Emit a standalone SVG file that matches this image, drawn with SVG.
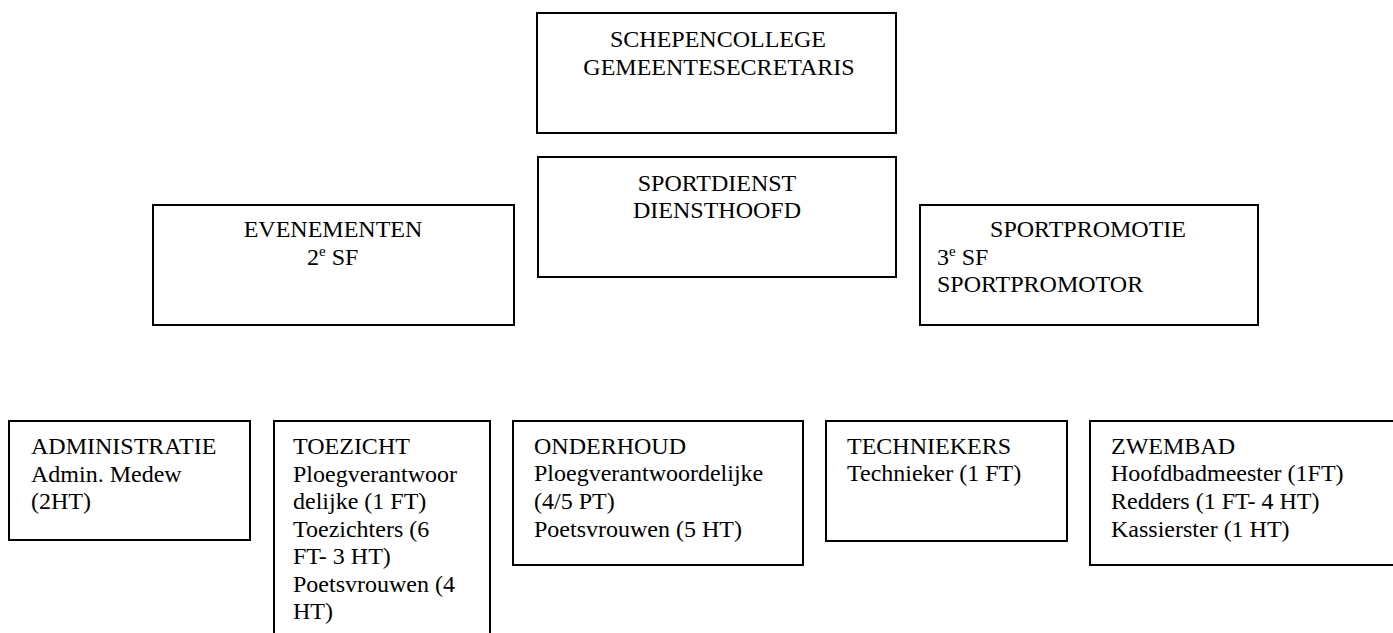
<svg xmlns="http://www.w3.org/2000/svg" width="1393" height="633" viewBox="0 0 1393 633">
<style>
.box{fill:#fff;stroke:#000;stroke-width:2}
text{font-family:"Liberation Serif","Times New Roman",serif;font-size:24px;fill:#000}
.c{text-anchor:middle}
.sup{font-size:15px}
</style>
<rect width="1393" height="633" fill="#fff"/>
<g id="connectors"></g>
<g id="schepencollege">
<rect class="box" x="537" y="13" width="359" height="120"/>
<text class="c" x="718" y="47">SCHEPENCOLLEGE</text>
<text class="c" x="719" y="75">GEMEENTESECRETARIS</text>
</g>
<g id="sportdienst">
<rect class="box" x="538" y="157" width="358" height="120"/>
<text class="c" x="717" y="191">SPORTDIENST</text>
<text class="c" x="717" y="218">DIENSTHOOFD</text>
</g>
<g id="evenementen">
<rect class="box" x="153" y="205" width="361" height="120"/>
<text class="c" x="333" y="237">EVENEMENTEN</text>
<text x="307" y="265">2<tspan class="sup" dy="-9">e</tspan><tspan dy="9"> SF</tspan></text>
</g>
<g id="sportpromotie">
<rect class="box" x="920" y="205" width="338" height="120"/>
<text class="c" x="1088" y="237">SPORTPROMOTIE</text>
<text x="937" y="265">3<tspan class="sup" dy="-9">e</tspan><tspan dy="9"> SF</tspan></text>
<text x="937" y="292">SPORTPROMOTOR</text>
</g>
<g id="administratie">
<rect class="box" x="9" y="421" width="241" height="119"/>
<text x="31" y="454">ADMINISTRATIE</text>
<text x="31" y="482">Admin. Medew</text>
<text x="31" y="509">(2HT)</text>
</g>
<g id="toezicht">
<rect class="box" x="274" y="421" width="216" height="230"/>
<text x="293" y="454">TOEZICHT</text>
<text x="293" y="482">Ploegverantwoor</text>
<text x="293" y="509">delijke (1 FT)</text>
<text x="293" y="537">Toezichters (6</text>
<text x="293" y="564">FT- 3 HT)</text>
<text x="293" y="592">Poetsvrouwen (4</text>
<text x="293" y="619">HT)</text>
</g>
<g id="onderhoud">
<rect class="box" x="513" y="421" width="290" height="144"/>
<text x="534" y="454">ONDERHOUD</text>
<text x="534" y="481">Ploegverantwoordelijke</text>
<text x="534" y="509">(4/5 PT)</text>
<text x="534" y="537">Poetsvrouwen (5 HT)</text>
</g>
<g id="techniekers">
<rect class="box" x="826" y="421" width="241" height="120"/>
<text x="847" y="454">TECHNIEKERS</text>
<text x="847" y="481">Technieker (1 FT)</text>
</g>
<g id="zwembad">
<rect class="box" x="1090" y="421" width="320" height="144"/>
<text x="1111" y="454">ZWEMBAD</text>
<text x="1111" y="481">Hoofdbadmeester (1FT)</text>
<text x="1111" y="509">Redders (1 FT- 4 HT)</text>
<text x="1111" y="537">Kassierster (1 HT)</text>
</g>
</svg>
